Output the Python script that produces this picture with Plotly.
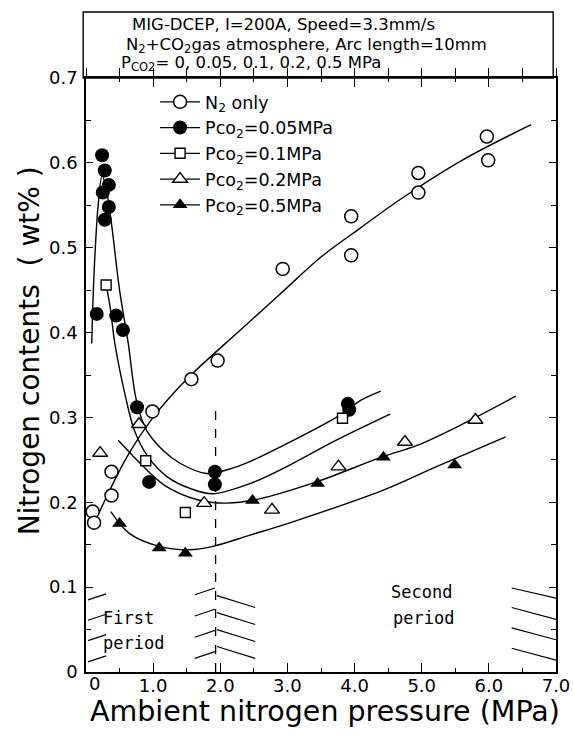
import plotly.graph_objects as go

# ---------------- data ----------------
n2_x = [0.10, 0.12, 0.38, 0.38, 0.99, 1.57, 1.96, 2.93, 3.95, 3.95, 4.95, 4.95, 5.97, 5.99]
n2_y = [0.189, 0.176, 0.208, 0.236, 0.307, 0.345, 0.367, 0.475, 0.537, 0.491, 0.588, 0.565, 0.631, 0.603]

p005_x = [0.24, 0.28, 0.34, 0.25, 0.34, 0.28, 0.16, 0.45, 0.55, 0.76, 0.94, 1.92, 1.92, 3.90, 3.92]
p005_y = [0.609, 0.591, 0.574, 0.565, 0.548, 0.533, 0.422, 0.420, 0.403, 0.312, 0.224, 0.236, 0.221, 0.316, 0.309]

p01_x = [0.30, 0.89, 1.48, 3.82]
p01_y = [0.456, 0.249, 0.188, 0.299]

p02_x = [0.21, 0.79, 1.76, 2.77, 3.76, 4.75, 5.80]
p02_y = [0.258, 0.292, 0.199, 0.191, 0.242, 0.271, 0.297]

p05_x = [0.50, 1.09, 1.48, 2.48, 3.45, 4.43, 5.49]
p05_y = [0.175, 0.146, 0.140, 0.202, 0.222, 0.253, 0.244]

# fitted curves (hand-drawn in the original), read as points along them
n2_cx = [0.15, 0.6, 1.0, 1.5, 2.3, 2.9, 3.5, 4.1, 4.7, 5.6, 6.63]
n2_cy = [0.18, 0.252, 0.30, 0.345, 0.403, 0.446, 0.489, 0.524, 0.558, 0.603, 0.645]

p005_cx = [0.085, 0.12, 0.18, 0.24, 0.30, 0.38, 0.5, 0.63, 0.75, 0.9, 1.15, 1.4, 1.79, 2.09, 2.44, 2.94, 3.79, 4.09, 4.39]
p005_cy = [0.387, 0.47, 0.549, 0.585, 0.57, 0.528, 0.45, 0.387, 0.32, 0.285, 0.261, 0.246, 0.234, 0.238, 0.248, 0.267, 0.303, 0.32, 0.331]

p01_cx = [0.30, 0.36, 0.43, 0.59, 0.72, 0.92, 1.21, 1.56, 1.89, 2.44, 2.94, 3.72, 4.53]
p01_cy = [0.456, 0.43, 0.387, 0.324, 0.285, 0.254, 0.23, 0.216, 0.21, 0.222, 0.24, 0.273, 0.304]

p02_cx = [0.48, 0.78, 1.17, 1.66, 2.09, 2.58, 3.43, 4.43, 4.93, 5.63, 6.4]
p02_cy = [0.273, 0.248, 0.22, 0.203, 0.199, 0.204, 0.224, 0.254, 0.267, 0.293, 0.325]

p05_cx = [0.37, 0.65, 1.09, 1.54, 1.89, 2.43, 3.08, 4.42, 5.22, 6.25]
p05_cy = [0.189, 0.163, 0.148, 0.144, 0.148, 0.161, 0.177, 0.214, 0.242, 0.277]

series_names = ["N<sub>2</sub> only", "Pco<sub>2</sub>=0.05MPa", "Pco<sub>2</sub>=0.1MPa",
                "Pco<sub>2</sub>=0.2MPa", "Pco<sub>2</sub>=0.5MPa"]

x_tick_vals = [0, 1, 2, 3, 4, 5, 6, 7]
x_tick_text = ["", "1.0", "2.0", "3.0", "4.0", "5.0", "6.0", "7.0"]

header_lines = [
    "MIG-DCEP, I=200A, Speed=3.3mm/s",
    "N<sub>2</sub>+CO<sub>2</sub>gas atmosphere, Arc length=10mm",
    "P<sub>CO2</sub>= 0, 0.05, 0.1, 0.2, 0.5 MPa",
]

# ---------------- styling ----------------
FONT = "DejaVu Sans"
BLK = "black"

marker_styles = [
    dict(symbol="circle", size=13, color="white", line=dict(width=1.5, color=BLK)),
    dict(symbol="circle", size=14, color=BLK, line=dict(width=0, color=BLK)),
    dict(symbol="square", size=10, color="white", line=dict(width=1.4, color=BLK)),
    dict(symbol="triangle-up", size=13, color="white", line=dict(width=1.4, color=BLK)),
    dict(symbol="triangle-up", size=13, color=BLK, line=dict(width=0, color=BLK)),
]

curves = [(n2_cx, n2_cy), (p005_cx, p005_cy), (p01_cx, p01_cy), (p02_cx, p02_cy), (p05_cx, p05_cy)]
points = [(n2_x, n2_y), (p005_x, p005_y), (p01_x, p01_y), (p02_x, p02_y), (p05_x, p05_y)]

fig = go.Figure()

for (cx, cy) in curves:
    fig.add_trace(go.Scatter(x=cx, y=cy, mode="lines",
                             line=dict(color=BLK, width=1.4, shape="spline", smoothing=1.0),
                             showlegend=False, hoverinfo="skip"))


def gapped(vals):
    out = []
    for v in vals:
        out += [v, None]
    return out


for (px, py), name, mk in zip(points, series_names, marker_styles):
    fig.add_trace(go.Scatter(x=gapped(px), y=gapped(py), mode="lines+markers", name=name,
                             connectgaps=False, line=dict(color=BLK, width=1.3),
                             marker=mk, showlegend=True))

# invisible trace to activate the top axis (outward ticks into the header box)
fig.add_trace(go.Scatter(x=[None], y=[None], xaxis="x2", showlegend=False, hoverinfo="skip"))

# ---------------- decorations ----------------
shapes = []
shapes.append(dict(type="rect", xref="paper", yref="paper", x0=-0.006, x1=0.994, y0=1.0, y1=1.111,
                   line=dict(color=BLK, width=1.4)))
shapes.append(dict(type="line", xref="x", yref="y", x0=1.93, x1=1.93, y0=0.0, y1=0.315,
                   line=dict(color=BLK, width=1.3, dash="dash")))

hatch_left = [(0.03, 0.012, 0.30, 0.019), (0.03, 0.037, 0.30, 0.044), (0.03, 0.061, 0.30, 0.068), (0.03, 0.085, 0.30, 0.092)]
hatch_mid_l = [(1.62, 0.016, 1.92, 0.024), (1.62, 0.041, 1.92, 0.049), (1.62, 0.066, 1.92, 0.074), (1.62, 0.091, 1.92, 0.099)]
hatch_mid_r = [(1.95, 0.030, 2.52, 0.016), (1.95, 0.050, 2.52, 0.036), (1.95, 0.070, 2.52, 0.056), (1.95, 0.090, 2.52, 0.076)]
hatch_right = [(6.34, 0.028, 7.0, 0.014), (6.34, 0.052, 7.0, 0.038), (6.34, 0.076, 7.0, 0.062), (6.34, 0.099, 7.0, 0.087)]
for seg in hatch_left + hatch_mid_l + hatch_mid_r + hatch_right:
    shapes.append(dict(type="line", xref="x", yref="y", x0=seg[0], y0=seg[1], x1=seg[2], y1=seg[3],
                       line=dict(color=BLK, width=1.2)))

annotations = []
header_y = [1.090, 1.055, 1.024]
header_x = [0.094, 0.081, 0.070]
for t, yy, xx in zip(header_lines, header_y, header_x):
    annotations.append(dict(text=t, xref="paper", yref="paper", x=xx, y=yy, xanchor="left", yanchor="middle",
                            showarrow=False, font=dict(family=FONT, size=16.5, color=BLK)))

period_font = dict(family="DejaVu Sans Mono", size=17, color=BLK)
annotations += [
    dict(text="First", x=0.64, y=0.064, xref="x", yref="y", showarrow=False, font=period_font),
    dict(text="period", x=0.70, y=0.034, xref="x", yref="y", showarrow=False, font=period_font),
    dict(text="Second", x=5.0, y=0.094, xref="x", yref="y", showarrow=False, font=period_font),
    dict(text="period", x=5.02, y=0.064, xref="x", yref="y", showarrow=False, font=period_font),
    # x tick label "0" (offset to the right as in the original)
    dict(text="0", xref="paper", yref="paper", x=0.019, y=-0.019, xanchor="center", yanchor="middle",
         showarrow=False, font=dict(family=FONT, size=18, color=BLK)),
    # axis titles
    dict(text="Ambient nitrogen pressure (MPa)", xref="paper", yref="paper", x=0.508, y=-0.067,
         xanchor="center", yanchor="middle", showarrow=False, font=dict(family=FONT, size=28.5, color=BLK)),
    dict(text="Nitrogen contents\u00a0 ( wt% )", xref="paper", yref="paper", x=-0.121, y=0.540, textangle=-90,
         xanchor="center", yanchor="middle", showarrow=False, font=dict(family=FONT, size=28, color=BLK)),
]

fig.update_layout(
    width=574, height=739,
    margin=dict(l=86, r=18, t=78, b=67, autoexpand=False),
    paper_bgcolor="white", plot_bgcolor="white",
    font=dict(family=FONT, color=BLK),
    showlegend=True,
    legend=dict(x=0.147, y=0.99, xanchor="left", yanchor="top", bgcolor="rgba(0,0,0,0)",
                font=dict(family=FONT, size=17.5, color=BLK), tracegroupgap=0, itemwidth=40),
    xaxis=dict(range=[0, 7], showgrid=False, zeroline=False, showline=True, linecolor=BLK, linewidth=1.5,
               mirror="ticks", ticks="inside", ticklen=9, tickwidth=1.3, tickcolor=BLK,
               tickvals=x_tick_vals, ticktext=x_tick_text, automargin=False, ticklabelstandoff=-3,
               tickfont=dict(family=FONT, size=18, color=BLK),
               minor=dict(dtick=0.5, tick0=0, ticks="inside", ticklen=4, tickwidth=1.2, tickcolor=BLK)),
    xaxis2=dict(range=[0, 7], overlaying="x", side="top", showgrid=False, zeroline=False, showline=False,
                ticks="outside", ticklen=9, tickwidth=1.2, tickcolor=BLK, dtick=0.5, tick0=0.5,
                showticklabels=False, automargin=False),
    yaxis=dict(range=[0, 0.7], showgrid=False, zeroline=False, showline=True, linecolor=BLK, linewidth=1.5,
               mirror="ticks", ticks="inside", ticklen=7, tickwidth=1.3, tickcolor=BLK, dtick=0.1, tick0=0,
               automargin=False, ticklabelstandoff=3,
               tickfont=dict(family=FONT, size=18, color=BLK),
               minor=dict(dtick=0.05, tick0=0, ticks="inside", ticklen=5, tickwidth=1.2, tickcolor=BLK)),
    shapes=shapes,
    annotations=annotations,
)

fig.write_html("out.html")
